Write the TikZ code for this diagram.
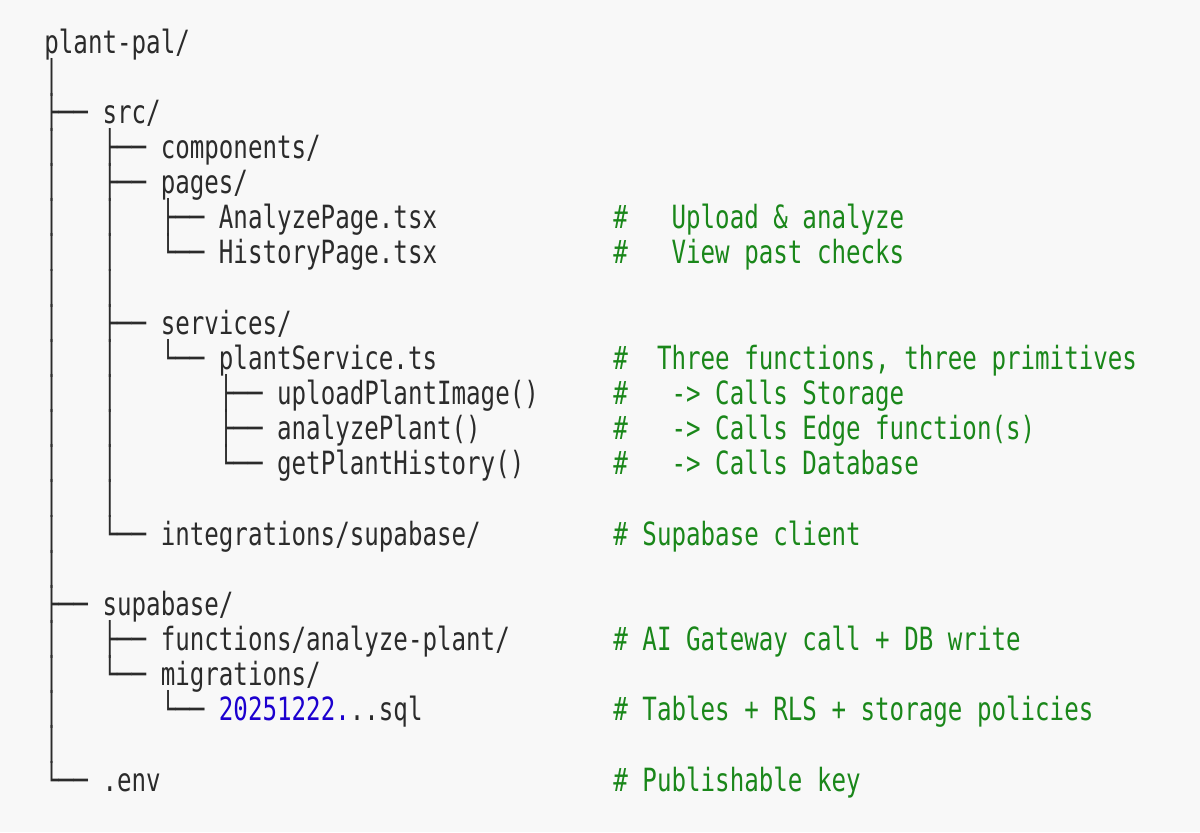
\documentclass[tikz,border=0pt]{standalone}
\usepackage{fontspec}
\usepackage{xcolor}
\usepackage{tikz}
\newfontfamily\treefont[FakeStretch=0.755]{DejaVu Sans Mono}
\definecolor{pagebg}{HTML}{F8F8F8}
\definecolor{listink}{HTML}{2B2B2B}
\definecolor{cmtgreen}{HTML}{1A871A}
\definecolor{numblue}{HTML}{1C00CF}

\begin{document}
\begin{tikzpicture}[x=0.5pt,y=-0.5pt,
  row/.style={font=\treefont\fontsize{16}{19}\selectfont,text=listink,anchor=base west,inner sep=0pt},
  cmt/.style={row,text=cmtgreen}]
\fill[pagebg] (0,0) rectangle (1200,832);
\useasboundingbox (0,0) rectangle (1200,832);
% tree column
\node[row] (r0) at (44,53.0) {plant-pal/};
\node[row] (r1) at (44,88.1) {│};
\node[row] (r2) at (44,123.3) {├──~src/};
\node[row] (r3) at (44,158.4) {│~~~├──~components/};
\node[row] (r4) at (44,193.6) {│~~~├──~pages/};
\node[row] (r5) at (44,228.7) {│~~~│~~~├──~AnalyzePage.tsx};
\node[row] (r6) at (44,263.8) {│~~~│~~~└──~HistoryPage.tsx};
\node[row] (r7) at (44,299.0) {│~~~│};
\node[row] (r8) at (44,334.1) {│~~~├──~services/};
\node[row] (r9) at (44,369.3) {│~~~│~~~└──~plantService.ts};
\node[row] (r10) at (44,404.4) {│~~~│~~~~~~~├──~uploadPlantImage()};
\node[row] (r11) at (44,439.5) {│~~~│~~~~~~~├──~analyzePlant()};
\node[row] (r12) at (44,474.7) {│~~~│~~~~~~~└──~getPlantHistory()};
\node[row] (r13) at (44,509.8) {│~~~│};
\node[row] (r14) at (44,545.0) {│~~~└──~integrations/supabase/};
\node[row] (r15) at (44,580.1) {│};
\node[row] (r16) at (44,615.2) {├──~supabase/};
\node[row] (r17) at (44,650.4) {│~~~├──~functions/analyze-plant/};
\node[row] (r18) at (44,685.5) {│~~~└──~migrations/};
\node[row] (r19) at (44,720.7) {│~~~~~~~└──~\textcolor{numblue}{20251222.}..sql};
\node[row] (r20) at (44,755.8) {│};
\node[row] (r21) at (44,791.0) {└──~.env};
% comments
\node[cmt] (c5) at (613,228.7) {\#~~~Upload \& analyze};
\node[cmt] (c6) at (613,263.8) {\#~~~View past checks};
\node[cmt] (c9) at (613,369.3) {\#~~Three functions, three primitives};
\node[cmt] (c10) at (613,404.4) {\#~~~->~Calls Storage};
\node[cmt] (c11) at (613,439.5) {\#~~~->~Calls Edge function(s)};
\node[cmt] (c12) at (613,474.7) {\#~~~->~Calls Database};
\node[cmt] (c14) at (613,545.0) {\#~Supabase client};
\node[cmt] (c17) at (613,650.4) {\#~AI Gateway call + DB write};
\node[cmt] (c19) at (613,720.7) {\#~Tables + RLS + storage policies};
\node[cmt] (c21) at (613,791.0) {\#~Publishable key};
\end{tikzpicture}
\end{document}
